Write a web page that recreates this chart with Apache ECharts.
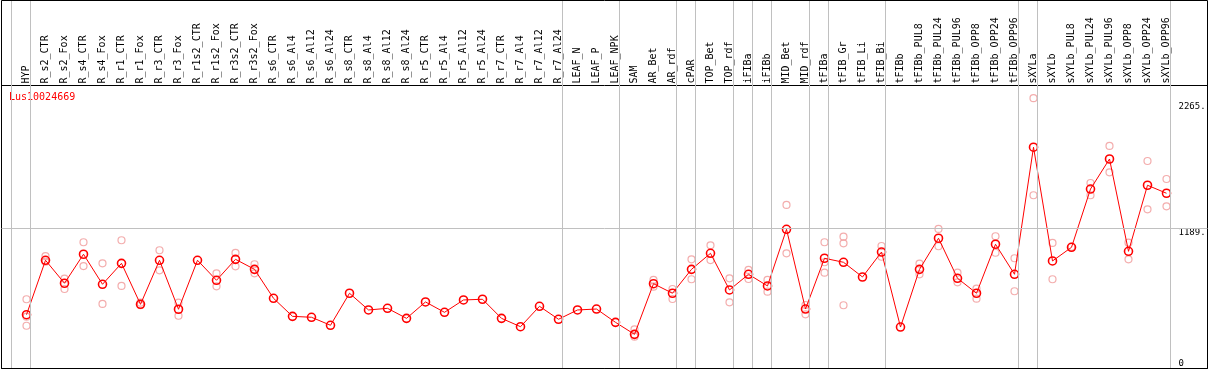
<!DOCTYPE html>
<html>
<head>
<meta charset="utf-8">
<script src="https://cdn.jsdelivr.net/npm/echarts@6/dist/echarts.min.js"></script>
<style>
html,body{margin:0;padding:0;background:#fff;}
#chart{width:1209px;height:370px;}
</style>
</head>
<body>
<div id="chart"></div>
<script>
const geneName = 'Lus10024669';
const categories = ['HYP','R_s2_CTR','R_s2_Fox','R_s4_CTR','R_s4_Fox','R_r1_CTR','R_r1_Fox','R_r3_CTR','R_r3_Fox',
  'R_r1s2_CTR','R_r1s2_Fox','R_r3s2_CTR','R_r3s2_Fox','R_s6_CTR','R_s6_Al4','R_s6_Al12','R_s6_Al24',
  'R_s8_CTR','R_s8_Al4','R_s8_Al12','R_s8_Al24','R_r5_CTR','R_r5_Al4','R_r5_Al12','R_r5_Al24',
  'R_r7_CTR','R_r7_Al4','R_r7_Al12','R_r7_Al24','LEAF_N','LEAF_P','LEAF_NPK','SAM','AR_Bet','AR_rdf',
  'cPAR','TOP_Bet','TOP_rdf','iFIBa','iFIBb','MID_Bet','MID_rdf','tFIBa','tFIB_Gr','tFIB_Li','tFIB_Bi',
  'tFIBb','tFIBb_PUL8','tFIBb_PUL24','tFIBb_PUL96','tFIBb_OPP8','tFIBb_OPP24','tFIBb_OPP96',
  'sXYLa','sXYLb','sXYLb_PUL8','sXYLb_PUL24','sXYLb_PUL96','sXYLb_OPP8','sXYLb_OPP24','sXYLb_OPP96'];
const means = [457,919,724,970,715,893,545,919,503,919,749,927,842,596,443,435,367,639,497,511,426,
  565,477,582,588,426,355,528,418,497,505,392,290,720,639,842,978,667,800,701,1182,505,936,902,777,989,
  352,842,1106,766,639,1055,800,1879,913,1029,1524,1779,995,1556,1488];
const replicates = [[588,440,363],[955,907],[763,675],[1072,870],[893,548],[1089,701],[559,537],[1004,834],
  [559,448],[],[808,698],[981,868],[885,808],
  [],[],[],[],[],[],[],[],[],[],[],[],[],[],[],[],[],[],[],
  [333,270],[752,695],[675,590],[927,758],[1046,921],[766,562],[837,760],[752,652],[1389,978],[539,460],
  [1072,902,814],[1119,1063,537],[],[1040,949],[],[890,800],[1185,1038],[814,732],[678,593],[1123,983],
  [936,656],[2295,1471],[1066,758],[1034],[1575,1471],[1890,1666],[1068,927],[1762,1352],[1609,1377]];
const separatorAfter = [-1,0,28,31,34,35,37,38,39,41,42,45,52,53,60];
const yTickValues = [0,1189,2265];
const yTickLabels = ['0','1189.','2265.'];
const refLineValue = 1189;
const yMax = 2403;

const FONT = 'DejaVu Sans Mono';
const repData = [];
replicates.forEach((r,i)=>r.forEach(v=>repData.push([i,v])));
const labelFor = v => { const k = yTickValues.indexOf(v); return k >= 0 ? yTickLabels[k] : ''; };

// separator axis shares the category pitch (19px) of the data grid but spans the whole frame
const PITCH = 19, DATA_LEFT = 17, FRAME_LEFT = 1.5, FRAME_W = 1206;
const sepMin = -0.5 - (DATA_LEFT - FRAME_LEFT) / PITCH;
const sepMax = sepMin + FRAME_W / PITCH;
const SEP_COLOR = '#c0c0c0';

const chart = echarts.init(document.getElementById('chart'), null, {renderer:'canvas'});
const hiddenAxis = (grid, extra) => Object.assign({gridIndex:grid, show:false, type:'value', min:0, max:1}, extra||{});
chart.setOption({
  animation:false,
  backgroundColor:'#fff',
  title:{text:geneName, left:9, top:92, padding:0, z:10,
    textStyle:{color:'#ff0000', fontSize:10, fontWeight:'normal', fontFamily:FONT}},
  grid:[
    {left:DATA_LEFT, top:85.5, width:1159, height:283},
    {left:FRAME_LEFT, top:0.5, width:FRAME_W, height:368, show:true, borderColor:'#000', borderWidth:1, backgroundColor:'transparent'},
    {left:FRAME_LEFT, top:85.5, width:FRAME_W, height:283, show:true, borderColor:'#000', borderWidth:1, backgroundColor:'transparent'},
    {left:FRAME_LEFT, top:1, width:FRAME_W, height:367}
  ],
  xAxis:[
    {gridIndex:0, type:'category', data:categories, position:'top', boundaryGap:true,
      axisLine:{show:false}, axisTick:{show:false}, splitLine:{show:false},
      axisLabel:{interval:0, rotate:90, margin:2, color:'#000', fontSize:10, fontFamily:FONT}},
    hiddenAxis(1),
    hiddenAxis(2),
    hiddenAxis(3, {min:sepMin, max:sepMax})
  ],
  yAxis:[
    {gridIndex:0, type:'value', min:0, max:yMax, show:false},
    hiddenAxis(1),
    {gridIndex:2, type:'value', min:0, max:yMax, position:'right',
      axisLine:{show:false}, axisTick:{show:false}, splitLine:{show:false},
      axisLabel:{inside:true, margin:29, align:'left', verticalAlign:'top', color:'#000', fontSize:9, fontFamily:FONT,
        customValues:yTickValues.filter(v=>v>0), formatter:labelFor}},
    hiddenAxis(3),
    {gridIndex:2, type:'value', min:0, max:yMax, position:'right',
      axisLine:{show:false}, axisTick:{show:false}, splitLine:{show:false},
      axisLabel:{inside:true, margin:29, align:'left', verticalAlign:'bottom', color:'#000', fontSize:9, fontFamily:FONT,
        customValues:yTickValues.filter(v=>v===0), formatter:labelFor}}
  ],
  series:[
    {type:'line', xAxisIndex:2, yAxisIndex:2, data:[], z:1, silent:true,
      markLine:{silent:true, symbol:'none', label:{show:false}, animation:false,
        lineStyle:{color:SEP_COLOR, width:1, type:'solid'},
        data:[{yAxis:refLineValue}]}},
    {type:'scatter', xAxisIndex:0, yAxisIndex:0, data:repData, z:3, symbol:'circle', symbolSize:7,
      itemStyle:{color:'rgba(255,255,255,0)', borderColor:'#f09898', borderWidth:1.2}},
    {type:'line', xAxisIndex:0, yAxisIndex:0, data:means, z:4, symbol:'circle', symbolSize:8,
      showAllSymbol:true,
      lineStyle:{color:'#ff0000', width:1},
      itemStyle:{color:'rgba(255,255,255,0)', borderColor:'#ff0000', borderWidth:1.6}}
  ]
});

// group separators: positions come from the separator axis scale
const sepRect = chart.getModel().getComponent('grid', 3).coordinateSystem.getRect();
chart.setOption({
  graphic:{elements: separatorAfter.map((e, k) => {
    const x = Math.round(chart.convertToPixel({xAxisIndex:3}, e + 4/19) - 0.5) + 0.5;
    return {type:'line', id:'sep' + k, silent:true, z:100,
      shape:{x1:x, y1:sepRect.y, x2:x, y2:sepRect.y + sepRect.height},
      style:{stroke:SEP_COLOR, lineWidth:1}};
  })}
});
</script>
</body>
</html>
